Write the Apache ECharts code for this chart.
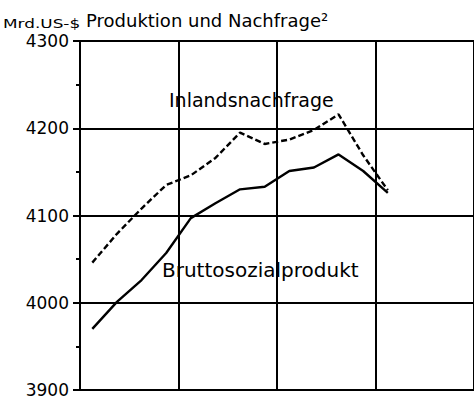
<!DOCTYPE html>
<html><head><meta charset="utf-8">
<script src="https://cdn.jsdelivr.net/npm/echarts@6/dist/echarts.min.js"></script>
<style>html,body{margin:0;padding:0;background:#fff}#c{width:474px;height:404px}</style>
</head><body><div id="c"></div>
<script>
const quarters = ['1988 Q1','1988 Q2','1988 Q3','1988 Q4','1989 Q1','1989 Q2','1989 Q3','1989 Q4','1990 Q1','1990 Q2','1990 Q3','1990 Q4','1991 Q1','1991 Q2','1991 Q3','1991 Q4'];
const bruttosozialprodukt = [3970, 4001, 4026, 4057, 4097, 4114, 4130, 4133, 4151, 4155, 4170, 4151, 4126];
const inlandsnachfrage   = [4046, 4079, 4108, 4135, 4146, 4166, 4195, 4182, 4187, 4198, 4216, 4169, 4129];
const yTicks = [3900, 4000, 4100, 4200, 4300];
const titleText = 'Produktion und Nachfrage²';
const unitText = 'Mrd.US-$';
const seriesNames = ['Bruttosozialprodukt', 'Inlandsnachfrage'];

const FONT = 'DejaVu Sans';
const chart = echarts.init(document.getElementById('c'), null, {renderer: 'svg'});
chart.setOption({
  animation: false,
  backgroundColor: '#fff',
  grid: {left: 80, right: 0, top: 41, bottom: 14, containLabel: false},
  xAxis: {
    type: 'category', data: quarters, boundaryGap: true,
    axisLine: {show: true, lineStyle: {color: '#000', width: 2}},
    axisTick: {show: false},
    axisLabel: {show: false},
    splitLine: {show: true, interval: 3, lineStyle: {color: '#000', width: 2}}
  },
  yAxis: {
    type: 'value', min: yTicks[0], max: yTicks[yTicks.length - 1], interval: 100,
    axisLine: {show: true, lineStyle: {color: '#000', width: 2}},
    axisTick: {show: true, inside: false, length: 7, lineStyle: {color: '#000', width: 2}},
    minorTick: {show: true, splitNumber: 2, length: 4, lineStyle: {color: '#000', width: 2}},
    axisLabel: {color: '#000', fontFamily: FONT, fontSize: 17, margin: 11, formatter: v => String(v)},
    splitLine: {show: true, lineStyle: {color: '#000', width: 2}}
  },
  graphic: [
    {type: 'text', left: 3, top: 17, style: {text: unitText, fontFamily: FONT, fontSize: 13, fill: '#000'}, scaleX: 1.3},
    {type: 'text', left: 86, top: 11, style: {text: titleText, fontFamily: FONT, fontSize: 18, fill: '#000'}},
    {type: 'text', left: 169, top: 90, style: {text: seriesNames[1], fontFamily: FONT, fontSize: 19, fill: '#000'}},
    {type: 'text', left: 162, top: 260, style: {text: seriesNames[0], fontFamily: FONT, fontSize: 20, fill: '#000'}}
  ],
  series: [
    {name: seriesNames[0], type: 'line', data: bruttosozialprodukt, symbol: 'none',
     lineStyle: {color: '#000', width: 2.4}},
    {name: seriesNames[1], type: 'line', data: inlandsnachfrage, symbol: 'none',
     lineStyle: {color: '#000', width: 2.4, type: [6, 3]}}
  ]
});
</script></body></html>
